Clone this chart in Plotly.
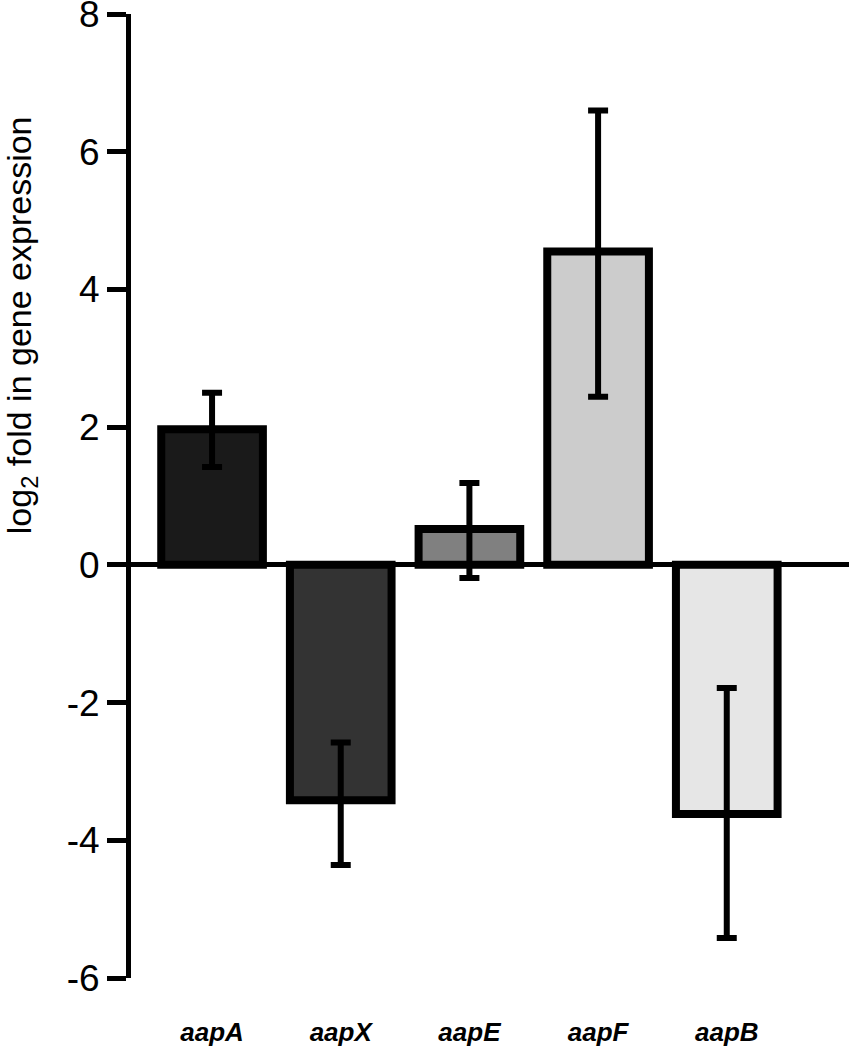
import plotly.graph_objects as go

genes = ["aapA", "aapX", "aapE", "aapF", "aapB"]
values = [1.97, -3.42, 0.52, 4.55, -3.62]
err_upper = [2.50, -2.58, 1.19, 6.60, -1.79]
err_lower = [1.42, -4.36, -0.19, 2.44, -5.42]
colors = ["#1a1a1a", "#333333", "#808080", "#cccccc", "#e6e6e6"]
y_ticks = [-6, -4, -2, 0, 2, 4, 6, 8]

plus = [u - v for u, v in zip(err_upper, values)]
minus = [v - l for l, v in zip(err_lower, values)]

fig = go.Figure()
fig.add_trace(go.Bar(
    x=list(range(len(genes))),
    y=values,
    marker=dict(color=colors, line=dict(color="black", width=8)),
    error_y=dict(type="data", symmetric=False, array=plus, arrayminus=minus,
                 color="black", thickness=6, width=10),
    width=0.79,
    showlegend=False,
))

fig.update_layout(
    width=849, height=1050,
    margin=dict(l=131, r=0, t=14, b=72, autoexpand=False),
    plot_bgcolor="white", paper_bgcolor="white",
    font=dict(family="Liberation Sans, Arial, sans-serif", color="black"),
    xaxis=dict(
        range=[-0.63, 4.95],
        tickmode="array",
        tickvals=list(range(len(genes))),
        ticktext=[f"<b><i>{g}</i></b>" for g in genes],
        tickfont=dict(size=26),
        showline=False, showgrid=False, zeroline=False, ticks="",
        ticklabelstandoff=36,
        automargin=False,
        ticklabeloverflow="allow",
    ),
    yaxis=dict(
        range=[-6, 8],
        tickmode="array",
        tickvals=y_ticks,
        ticktext=[str(t) for t in y_ticks],
        tickfont=dict(size=37),
        showline=True, linecolor="black", linewidth=5,
        ticks="outside", ticklen=19, tickwidth=5, tickcolor="black",
        showgrid=False,
        zeroline=True, zerolinecolor="black", zerolinewidth=5,
        automargin=False,
        ticklabeloverflow="allow",
    ),
    annotations=[dict(
        text="log<sub>2</sub> fold in gene expression",
        xref="paper", yref="y", x=-0.1532, y=3.48,
        xanchor="center", yanchor="middle",
        textangle=-90, showarrow=False,
        font=dict(size=34, family="Liberation Sans, Arial, sans-serif", color="black"),
    )],
)

fig.write_html(
    "out.html",
    config={"displayModeBar": False},
    post_script="document.body.style.margin='0';document.body.style.overflow='hidden';",
)
